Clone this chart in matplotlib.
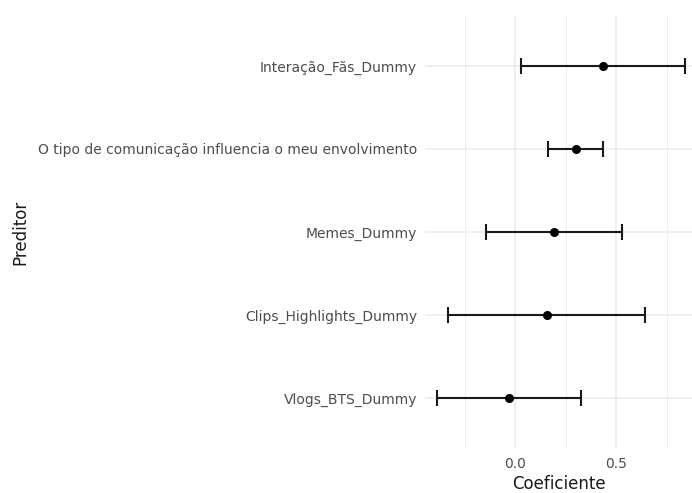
import matplotlib
matplotlib.use("Agg")
import matplotlib.pyplot as plt
from matplotlib.ticker import MultipleLocator, FormatStrFormatter

# regression coefficients with confidence intervals (bottom to top)
preditores = ["Vlogs_BTS_Dummy", "Clips_Highlights_Dummy", "Memes_Dummy",
              "O tipo de comunicação influencia o meu envolvimento",
              "Interação_Fãs_Dummy"]
coef = [-0.029, 0.155, 0.191, 0.300, 0.436]
ci_low = [-0.386, -0.332, -0.144, 0.162, 0.028]
ci_high = [0.327, 0.644, 0.531, 0.436, 0.840]

plt.rcParams['font.family'] = ['DejaVu Sans']

fig = plt.figure(figsize=(6.92, 4.93), dpi=100)
ax = fig.add_axes([0.614, 0.0913, 0.386, 0.8762])

ypos = list(range(len(preditores)))
err = [[c - lo for c, lo in zip(coef, ci_low)],
       [hi - c for c, hi in zip(coef, ci_high)]]
ax.errorbar(coef, ypos, xerr=err, fmt='o', color='black', ecolor='#1a1a1a',
            elinewidth=1.5, capsize=5.8, capthick=1.5, markersize=5.5, zorder=3)

ax.set_xlim(-0.447, 0.875)
ax.set_ylim(-0.6, len(preditores) - 0.4)
ax.set_yticks(ypos)
ax.set_yticklabels(preditores)
ax.xaxis.set_major_locator(MultipleLocator(0.5))
ax.xaxis.set_minor_locator(MultipleLocator(0.25))
ax.xaxis.set_major_formatter(FormatStrFormatter('%.1f'))

# theme_minimal look
for s in ax.spines.values():
    s.set_visible(False)
ax.grid(True, which='major', color='#ebebeb', linewidth=1.1, zorder=0)
ax.grid(True, which='minor', axis='x', color='#ebebeb', linewidth=0.6, zorder=0)
ax.set_axisbelow(True)
ax.tick_params(which='both', length=0, labelsize=10, labelcolor='#4d4d4d')
ax.tick_params(axis='y', pad=5.5)
ax.tick_params(axis='x', pad=6.5)

ax.set_xlabel("Coeficiente", fontsize=12, color='#1a1a1a', labelpad=3)
ax.set_ylabel("Preditor", fontsize=12, color='#1a1a1a')
ax.yaxis.set_label_coords(-1.48, 0.5)

fig.savefig("out.png", dpi=100)
